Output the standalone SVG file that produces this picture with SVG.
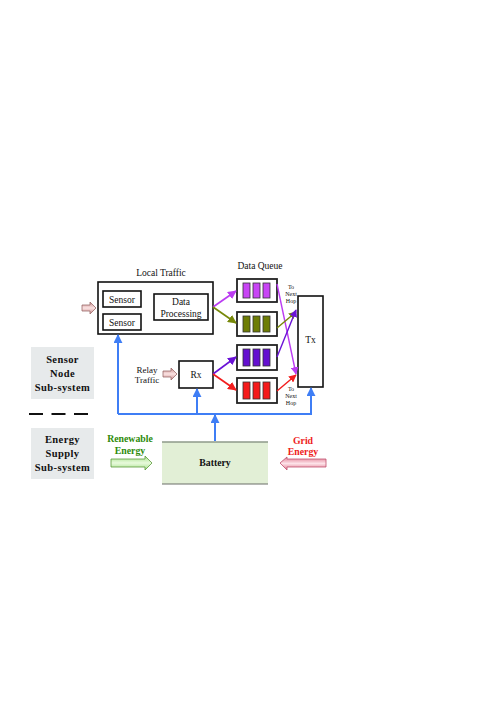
<svg xmlns="http://www.w3.org/2000/svg" width="496" height="702" viewBox="0 0 496 702">
<defs>
<style>
.t{font-family:"Liberation Serif","Times New Roman",serif;fill:#111;}
.b{font-weight:bold;}
.box{fill:#fff;stroke:#111;stroke-width:1.6;}
.q{fill:#fff;stroke:#222;stroke-width:1.8;}
.bar{stroke:#333;stroke-width:0.8;}
.sub{fill:#e7eaeb;}
.blue{stroke:#3f7ef5;stroke-width:2;fill:none;}
</style>
<linearGradient id="pinkG" x1="0" y1="0" x2="0" y2="1">
<stop offset="0" stop-color="#c98b8b"/><stop offset="0.5" stop-color="#fbe3e3"/><stop offset="1" stop-color="#c98b8b"/>
</linearGradient>
<linearGradient id="gridG" x1="0" y1="0" x2="0" y2="1">
<stop offset="0" stop-color="#e07a90"/><stop offset="0.5" stop-color="#fde2e8"/><stop offset="1" stop-color="#e07a90"/>
</linearGradient>
<linearGradient id="greenG" x1="0" y1="0" x2="0" y2="1">
<stop offset="0" stop-color="#a6e08a"/><stop offset="0.5" stop-color="#e8fadc"/><stop offset="1" stop-color="#a6e08a"/>
</linearGradient>
<marker id="mB" viewBox="0 0 10 10" refX="9" refY="5" markerWidth="4.5" markerHeight="4.5" orient="auto"><path d="M0,0 L10,5 L0,10 z" fill="#3f7ef5"/></marker>
<marker id="mM" viewBox="0 0 10 10" refX="9" refY="5" markerWidth="5.5" markerHeight="5.5" orient="auto"><path d="M0,0 L10,5 L0,10 z" fill="#bb3cf2"/></marker>
<marker id="mO" viewBox="0 0 10 10" refX="9" refY="5" markerWidth="5.5" markerHeight="5.5" orient="auto"><path d="M0,0 L10,5 L0,10 z" fill="#77880a"/></marker>
<marker id="mP" viewBox="0 0 10 10" refX="9" refY="5" markerWidth="5.5" markerHeight="5.5" orient="auto"><path d="M0,0 L10,5 L0,10 z" fill="#6a12d6"/></marker>
<marker id="mR" viewBox="0 0 10 10" refX="9" refY="5" markerWidth="5.5" markerHeight="5.5" orient="auto"><path d="M0,0 L10,5 L0,10 z" fill="#f21d1d"/></marker>
</defs>
<rect width="496" height="702" fill="#fff"/>

<g id="local-traffic">
<text class="t" x="161" y="276" font-size="9.5" text-anchor="middle">Local Traffic</text>
<rect class="box" x="98" y="282" width="115" height="52"/>
</g>
<g id="sensor1"><rect class="box" x="103" y="291" width="38" height="16" stroke-width="1.3"/><text class="t" x="122" y="302.5" font-size="9.5" text-anchor="middle">Sensor</text></g>
<g id="sensor2"><rect class="box" x="103" y="314" width="38" height="16" stroke-width="1.3"/><text class="t" x="122" y="325.5" font-size="9.5" text-anchor="middle">Sensor</text></g>
<g id="data-processing"><rect class="box" x="154" y="294" width="54" height="26" stroke-width="1.3"/><text class="t" x="181" y="305" font-size="9.5" text-anchor="middle">Data</text><text class="t" x="181" y="316.5" font-size="9.5" text-anchor="middle">Processing</text></g>
<g id="local-input"><polygon points="82,305 90,305 90,302 96,308 90,314 90,311 82,311" fill="url(#pinkG)" stroke="#9a6a6a" stroke-width="0.8"/></g>

<g id="data-queue-label"><text class="t" x="260" y="269" font-size="9.5" text-anchor="middle">Data Queue</text></g>
<g id="queue1"><rect class="q" x="237" y="279" width="40" height="23"/><rect class="bar" x="243" y="283" width="7" height="15" fill="#c845f5"/><rect class="bar" x="253" y="283" width="7" height="15" fill="#c845f5"/><rect class="bar" x="263" y="283" width="7" height="15" fill="#c845f5"/></g>
<g id="queue2"><rect class="q" x="237" y="312" width="40" height="24"/><rect class="bar" x="243" y="316" width="7" height="16" fill="#6e7d05"/><rect class="bar" x="253" y="316" width="7" height="16" fill="#6e7d05"/><rect class="bar" x="263" y="316" width="7" height="16" fill="#6e7d05"/></g>
<g id="queue3"><rect class="q" x="237" y="345" width="40" height="25"/><rect class="bar" x="243" y="349" width="7" height="17" fill="#6410d0"/><rect class="bar" x="253" y="349" width="7" height="17" fill="#6410d0"/><rect class="bar" x="263" y="349" width="7" height="17" fill="#6410d0"/></g>
<g id="queue4"><rect class="q" x="237" y="378" width="40" height="25"/><rect class="bar" x="243" y="382" width="7" height="17" fill="#f51a1a"/><rect class="bar" x="253" y="382" width="7" height="17" fill="#f51a1a"/><rect class="bar" x="263" y="382" width="7" height="17" fill="#f51a1a"/></g>

<g id="tx"><rect class="box" x="298" y="296" width="25" height="91"/><text class="t" x="310.5" y="343" font-size="9.5" text-anchor="middle">Tx</text></g>
<g id="next-hop-top"><text class="t" x="291" y="289" font-size="6" text-anchor="middle">To</text><text class="t" x="291" y="296" font-size="6" text-anchor="middle">Next</text><text class="t" x="291" y="303" font-size="6" text-anchor="middle">Hop</text></g>
<g id="next-hop-bottom"><text class="t" x="291" y="391" font-size="6" text-anchor="middle">To</text><text class="t" x="291" y="398" font-size="6" text-anchor="middle">Next</text><text class="t" x="291" y="405" font-size="6" text-anchor="middle">Hop</text></g>

<g id="rx"><rect class="box" x="179" y="361" width="34" height="27"/><text class="t" x="196" y="377.5" font-size="9.5" text-anchor="middle">Rx</text></g>
<g id="relay-traffic"><text class="t" x="147" y="373" font-size="9" text-anchor="middle">Relay</text><text class="t" x="147" y="383" font-size="9" text-anchor="middle">Traffic</text><polygon points="163,371 171,371 171,368 177,374 171,380 171,377 163,377" fill="url(#pinkG)" stroke="#9a6a6a" stroke-width="0.8"/></g>

<g id="sensor-node-subsystem"><rect class="sub" x="31" y="347" width="63" height="52"/><text class="t b" x="62.5" y="363" font-size="10.5" letter-spacing="0.4" text-anchor="middle">Sensor</text><text class="t b" x="62.5" y="377" font-size="10.5" letter-spacing="0.4" text-anchor="middle">Node</text><text class="t b" x="62.5" y="391" font-size="10.5" letter-spacing="0.4" text-anchor="middle">Sub-system</text></g>
<g id="divider"><line x1="29" y1="414" x2="88" y2="414" stroke="#111" stroke-width="2.2" stroke-dasharray="14,8.5"/></g>
<g id="energy-supply-subsystem"><rect class="sub" x="31" y="428" width="63" height="51"/><text class="t b" x="62.5" y="443" font-size="10.5" letter-spacing="0.4" text-anchor="middle">Energy</text><text class="t b" x="62.5" y="457" font-size="10.5" letter-spacing="0.4" text-anchor="middle">Supply</text><text class="t b" x="62.5" y="471" font-size="10.5" letter-spacing="0.4" text-anchor="middle">Sub-system</text></g>

<g id="battery"><rect x="162" y="442" width="106" height="42" fill="#e2efd6"/><line x1="162" y1="442" x2="268" y2="442" stroke="#8e9a8a" stroke-width="1.5"/><line x1="162" y1="484" x2="268" y2="484" stroke="#6a6e68" stroke-width="1.2"/><text class="t b" x="215" y="466" font-size="9.8" text-anchor="middle">Battery</text></g>
<g id="renewable-energy"><text class="t b" x="130" y="442" font-size="9.8" text-anchor="middle" style="fill:#2e8b0a">Renewable</text><text class="t b" x="130" y="454" font-size="9.8" text-anchor="middle" style="fill:#2e8b0a">Energy</text><polygon points="111,459 145,459 145,456 152,463 145,470 145,467 111,467" fill="url(#greenG)" stroke="#5a9a3a" stroke-width="0.8"/></g>
<g id="grid-energy"><text class="t b" x="303" y="444" font-size="9.8" text-anchor="middle" style="fill:#ee2222">Grid</text><text class="t b" x="303" y="455" font-size="9.8" text-anchor="middle" style="fill:#ee2222">Energy</text><polygon points="326,459 287,459 287,457 280,463 287,470 287,467 326,467" fill="url(#gridG)" stroke="#c05070" stroke-width="0.8"/></g>

<g id="connectors">
<polyline class="blue" points="311,414 118,414"/>
<line class="blue" x1="118" y1="414" x2="118" y2="335" marker-end="url(#mB)"/>
<line class="blue" x1="197" y1="414" x2="197" y2="389" marker-end="url(#mB)"/>
<line class="blue" x1="311" y1="415" x2="311" y2="388" marker-end="url(#mB)"/>
<line class="blue" x1="215" y1="441" x2="215" y2="415" marker-end="url(#mB)"/>
<line x1="213" y1="307" x2="236" y2="291" stroke="#bb3cf2" stroke-width="1.6" marker-end="url(#mM)"/>
<line x1="213" y1="307" x2="236" y2="323" stroke="#77880a" stroke-width="1.6" marker-end="url(#mO)"/>
<line x1="213" y1="374" x2="236" y2="357" stroke="#6a12d6" stroke-width="1.6" marker-end="url(#mP)"/>
<line x1="213" y1="374" x2="236" y2="390" stroke="#f21d1d" stroke-width="1.6" marker-end="url(#mR)"/>
<line x1="277" y1="284" x2="296" y2="374" stroke="#bb3cf2" stroke-width="1.4" marker-end="url(#mM)"/>
<line x1="277" y1="328" x2="296" y2="312" stroke="#77880a" stroke-width="1.4" marker-end="url(#mO)"/>
<line x1="277" y1="357" x2="296" y2="310" stroke="#6a12d6" stroke-width="1.4" marker-end="url(#mP)"/>
<line x1="277" y1="391" x2="296" y2="375" stroke="#f21d1d" stroke-width="1.4" marker-end="url(#mR)"/>
</g>
</svg>
